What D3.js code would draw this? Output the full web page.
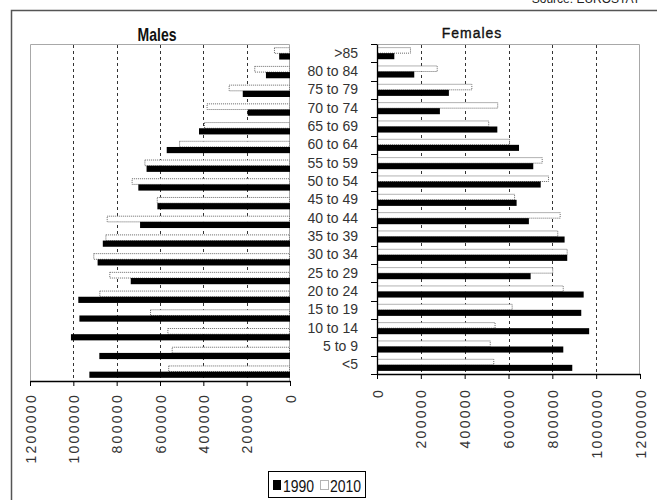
<!DOCTYPE html>
<html>
<head>
<meta charset="utf-8">
<script src="https://cdn.jsdelivr.net/npm/d3@7"></script>
<style>
  body { margin: 0; background: #fff; }
  svg { display: block; }
  text { font-family: "Liberation Sans", Arial, sans-serif; }
</style>
</head>
<body>
<svg id="chart" width="657" height="500"></svg>
<script>
// Population by age group, 1990 and 2010
const ageGroups = [">85", "80 to 84", "75 to 79", "70 to 74", "65 to 69", "60 to 64",
  "55 to 59", "50 to 54", "45 to 49", "40 to 44", "35 to 39", "30 to 34",
  "25 to 29", "20 to 24", "15 to 19", "10 to 14", "5 to 9", "<5"];
const males1990 = [50000, 111000, 218000, 195000, 420000, 569000, 662000, 700000, 612000,
  692000, 864000, 888000, 735000, 977000, 972000, 1011000, 880000, 926000];
const males2010 = [74000, 165000, 283000, 385000, 397000, 512000, 672000, 731000, 615000,
  846000, 852000, 908000, 834000, 880000, 646000, 566000, 546000, 562000];
const females1990 = [79000, 170000, 328000, 287000, 549000, 648000, 713000, 747000, 637000,
  693000, 856000, 868000, 701000, 943000, 932000, 968000, 850000, 891000];
const females2010 = [155000, 277000, 435000, 553000, 512000, 607000, 756000, 785000, 630000,
  838000, 827000, 870000, 804000, 852000, 619000, 541000, 519000, 535000];
const axisTicks = [0, 200000, 400000, 600000, 800000, 1000000, 1200000];
const gridTicks = [200000, 400000, 600000, 800000, 1000000];
const seriesNames = ["1990", "2010"];
const panelTitles = ["Males", "Females"];
const sourceNote = "Source: EUROSTAT";

const svg = d3.select("#chart");

// outer frame
svg.append("path")
  .attr("d", "M11.5,500V10.5H657")
  .attr("fill", "none").attr("stroke", "#555").attr("stroke-width", 1.5);

svg.append("text")
  .attr("x", 640).attr("y", 3)
  .attr("text-anchor", "end")
  .attr("font-size", 12).attr("fill", "#222")
  .text(sourceNote);

function drawPanel(opts) {
  const { left, right, top, bottom, reversed, v1990, v2010 } = opts;
  const x = d3.scaleLinear().domain([0, 1200000])
    .range(reversed ? [right, left] : [left, right]);
  const y = d3.scaleBand().domain(ageGroups).range([top, bottom]);
  const bw = y.bandwidth();
  const barH = bw * 0.33;
  const g = svg.append("g");

  // plot-area border (grey)
  g.append("path")
    .attr("d", `M${left + 0.5},${bottom}V${top + 0.5}H${right - 0.5}V${bottom}`)
    .attr("fill", "none").attr("stroke", "#a8a8a8").attr("stroke-width", 1);

  // dashed gridlines
  g.selectAll("line.grid").data(gridTicks).join("line")
    .attr("class", "grid")
    .attr("x1", d => Math.round(x(d)) + 0.5).attr("x2", d => Math.round(x(d)) + 0.5)
    .attr("y1", top + 1).attr("y2", bottom)
    .attr("stroke", "#333").attr("stroke-width", 1)
    .attr("stroke-dasharray", "3,3");

  // 2010 bars: white with dotted outline, above the band centre
  g.selectAll("rect.y2010").data(ageGroups).join("rect")
    .attr("class", "y2010")
    .attr("x", (d, i) => Math.min(x(0), x(v2010[i])) + 0.5)
    .attr("width", (d, i) => Math.abs(x(v2010[i]) - x(0)) - 1)
    .attr("y", d => y(d) + bw / 2 - barH + 0.5)
    .attr("height", barH - 0.5)
    .attr("fill", "#fff").attr("stroke", "#666").attr("stroke-width", 1)
    .attr("stroke-dasharray", "1,1");

  // 1990 bars: solid black, below the band centre
  g.selectAll("rect.y1990").data(ageGroups).join("rect")
    .attr("class", "y1990")
    .attr("x", (d, i) => Math.min(x(0), x(v1990[i])))
    .attr("width", (d, i) => Math.abs(x(v1990[i]) - x(0)))
    .attr("y", d => y(d) + bw / 2)
    .attr("height", barH)
    .attr("fill", "#000");

  // value axis with rotated labels
  const ax = g.append("g")
    .attr("transform", `translate(0,${bottom})`)
    .call(d3.axisBottom(x).tickValues(axisTicks).tickSize(5).tickSizeOuter(0)
      .tickFormat(d3.format("d")));
  ax.select(".domain").attr("stroke", "#000").attr("stroke-width", 1.3);
  ax.selectAll(".tick line").attr("stroke", "#000");
  ax.selectAll(".tick text")
    .attr("transform", "rotate(-90)")
    .attr("text-anchor", "end")
    .attr("x", -opts.labelGap).attr("y", 0).attr("dy", "0.36em")
    .attr("font-family", "'Liberation Sans', Arial, sans-serif")
    .attr("font-size", 14).attr("letter-spacing", "2.3px")
    .attr("fill", "#333");

  return { x, y, bw };
}

const males = drawPanel({ left: 30, right: 290, top: 44, bottom: 381, reversed: true,
  v1990: males1990, v2010: males2010, labelGap: 12 });
const females = drawPanel({ left: 377, right: 640, top: 44, bottom: 374, reversed: false,
  v1990: females1990, v2010: females2010, labelGap: 14 });

// category axis on the left edge of the females panel
const catAxis = svg.append("g").attr("transform", "translate(377,0)")
  .call(d3.axisLeft(females.y).tickSize(0).tickPadding(19));
catAxis.select(".domain").attr("stroke", "#000").attr("stroke-width", 1.3);
catAxis.selectAll(".tick text")
  .attr("font-family", "'Liberation Sans', Arial, sans-serif")
  .attr("font-size", 14).attr("fill", "#333");
catAxis.selectAll("line.bound")
  .data(d3.range(ageGroups.length + 1)).join("line")
  .attr("class", "bound")
  .attr("x1", -6).attr("x2", 0)
  .attr("y1", i => Math.round(44 + i * females.bw) + 0.5)
  .attr("y2", i => Math.round(44 + i * females.bw) + 0.5)
  .attr("stroke", "#000");

// panel titles
svg.append("text")
  .attr("transform", "translate(157,41) scale(1,1.3)")
  .attr("text-anchor", "middle")
  .attr("font-size", 14).attr("font-weight", "bold").attr("fill", "#111")
  .text(panelTitles[0]);
svg.append("text")
  .attr("transform", "translate(472,38) scale(1,1.1)")
  .attr("text-anchor", "middle")
  .attr("font-size", 14).attr("letter-spacing", "1px").attr("fill", "#111")
  .attr("stroke", "#111").attr("stroke-width", 0.35)
  .text(panelTitles[1]);

// legend
const lg = svg.append("g").attr("transform", "translate(268,471)");
lg.append("rect").attr("x", 0.5).attr("y", 0.5).attr("width", 97).attr("height", 26)
  .attr("fill", "#fff").attr("stroke", "#000");
lg.append("rect").attr("x", 5).attr("y", 9).attr("width", 8).attr("height", 10).attr("fill", "#000");
lg.append("text").attr("transform", "translate(15,21) scale(1,1.2)")
  .attr("font-size", 14).attr("fill", "#111").text(seriesNames[0]);
lg.append("rect").attr("x", 52.5).attr("y", 9.5).attr("width", 8).attr("height", 9)
  .attr("fill", "#fff").attr("stroke", "#666").attr("stroke-dasharray", "1,1");
lg.append("text").attr("transform", "translate(62,21) scale(1,1.2)")
  .attr("font-size", 14).attr("fill", "#111").text(seriesNames[1]);
</script>
</body>
</html>
